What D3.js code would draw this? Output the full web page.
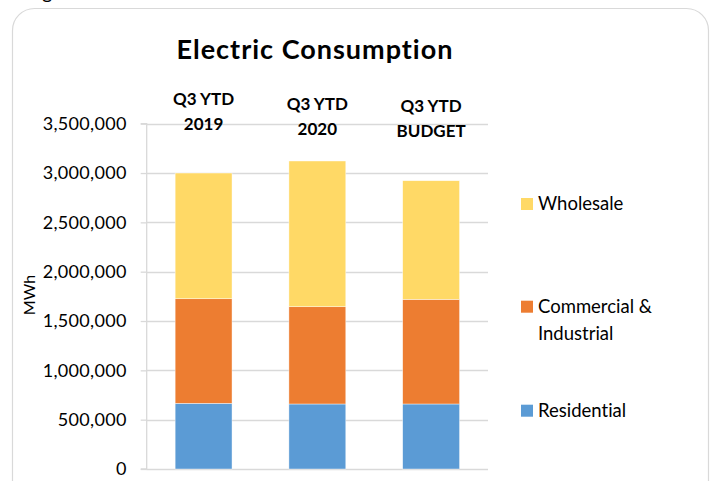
<!DOCTYPE html>
<html>
<head>
<meta charset="utf-8">
<script src="https://cdn.jsdelivr.net/npm/d3@7"></script>
<style>
  html, body { margin: 0; padding: 0; background: #fff; }
  svg { display: block; }
  text { font-family: Lato, "Open Sans", sans-serif; fill: #000; font-variant-ligatures: none; }
</style>
</head>
<body>
<svg id="chart" width="710" height="481"></svg>
<script>
// Electric consumption by customer class (MWh)
const categories = ["Q3 YTD 2019", "Q3 YTD 2020", "Q3 YTD BUDGET"];
const categoryLines = [["Q3 YTD", "2019"], ["Q3 YTD", "2020"], ["Q3 YTD", "BUDGET"]];
const residential = [666000, 659000, 659000];
const commercialIndustrial = [1060000, 986000, 1061000];
const wholesale = [1274000, 1477000, 1202000];
const seriesNames = ["Residential", "Commercial & Industrial", "Wholesale"];
const yTicks = [0, 500000, 1000000, 1500000, 2000000, 2500000, 3000000, 3500000];

const colors = {
  "Residential": "#5B9BD5",
  "Commercial & Industrial": "#ED7D31",
  "Wholesale": "#FFD966"
};

const svg = d3.select("#chart");

// card outline
svg.append("rect")
  .attr("x", 12.5).attr("y", 8.5)
  .attr("width", 696).attr("height", 520)
  .attr("rx", 22).attr("ry", 22)
  .attr("fill", "#fff")
  .attr("stroke", "#d9d9d9").attr("stroke-width", 1.2);

// tail of the caption line above the card
svg.append("text")
  .attr("x", 42).attr("y", -1)
  .style("font-size", "20px")
  .text("g");

const rows = categories.map((c, i) => ({
  category: c,
  "Residential": residential[i],
  "Commercial & Industrial": commercialIndustrial[i],
  "Wholesale": wholesale[i]
}));

const x = d3.scaleBand()
  .domain(categories)
  .range([146.7, 488])
  .paddingInner(0.5)
  .paddingOuter(0.25);

const y = d3.scaleLinear()
  .domain([0, 3500000])
  .range([469, 123.7]);

// horizontal gridlines
svg.append("g")
  .selectAll("line")
  .data(yTicks)
  .join("line")
  .attr("x1", 146.7).attr("x2", 488)
  .attr("y1", d => Math.round(y(d)) + 0.5)
  .attr("y2", d => Math.round(y(d)) + 0.5)
  .attr("stroke", "#d9d9d9").attr("stroke-width", 1.3);

// stacked bars
const stacked = d3.stack().keys(seriesNames)(rows);
svg.append("g")
  .selectAll("g")
  .data(stacked)
  .join("g")
  .attr("fill", d => colors[d.key])
  .selectAll("rect")
  .data(d => d)
  .join("rect")
  .attr("x", d => x(d.data.category))
  .attr("width", x.bandwidth())
  .attr("y", d => y(d[1]))
  .attr("height", d => y(d[0]) - y(d[1]))
  .attr("stroke", "#fff")
  .attr("stroke-width", 0.6)
  .attr("stroke-opacity", 0.7);

// value axis
const yAxis = d3.axisLeft(y)
  .tickValues(yTicks)
  .tickSize(6)
  .tickPadding(14)
  .tickFormat(d3.format(","));

const axisG = svg.append("g")
  .attr("transform", "translate(146.7,0)")
  .call(yAxis);
axisG.select(".domain").attr("stroke", "#d9d9d9").attr("stroke-width", 1.3)
  .attr("d", `M-6,${y(3500000)}H0V${y(0)}H-6`);
axisG.selectAll(".tick line").attr("stroke", "#d9d9d9").attr("stroke-width", 1.3);
axisG.selectAll(".tick text")
  .attr("fill", "#000")
  .style("font-family", "Lato, 'Open Sans', sans-serif")
  .style("font-size", "18px")
  .style("letter-spacing", "0.3px");

// axis title
svg.append("text")
  .attr("transform", "translate(35,295) rotate(-90)")
  .attr("text-anchor", "middle")
  .style("font-size", "16px")
  .text("MWh");

// category labels above the bars
const labelBase = [105, 110, 112];
const labelG = svg.append("g");
categories.forEach((c, i) => {
  const t = labelG.append("text")
    .attr("x", x(c) + x.bandwidth() / 2)
    .attr("y", labelBase[i])
    .attr("text-anchor", "middle")
    .style("font-size", "17px")
    .style("font-weight", "bold");
  categoryLines[i].forEach((line, j) => {
    t.append("tspan")
      .attr("x", x(c) + x.bandwidth() / 2)
      .attr("dy", j === 0 ? 0 : 24.5)
      .text(line);
  });
});

// title
svg.append("text")
  .attr("x", 315).attr("y", 59)
  .attr("text-anchor", "middle")
  .style("font-size", "27px")
  .style("font-weight", "bold")
  .style("letter-spacing", "1px")
  .text("Electric Consumption");

// legend
const legendItems = [
  { key: "Wholesale", lines: ["Wholesale"], y: 210 },
  { key: "Commercial & Industrial", lines: ["Commercial &", "Industrial"], y: 312.7 },
  { key: "Residential", lines: ["Residential"], y: 416.7 }
];
const legend = svg.append("g");
legendItems.forEach(item => {
  legend.append("rect")
    .attr("x", 521).attr("y", item.y - 12)
    .attr("width", 12).attr("height", 12)
    .attr("fill", colors[item.key]);
  const t = legend.append("text")
    .attr("x", 538).attr("y", item.y)
    .style("font-size", "18.5px");
  item.lines.forEach((line, j) => {
    t.append("tspan")
      .attr("x", 538)
      .attr("dy", j === 0 ? 0 : 27.3)
      .text(line);
  });
});
</script>
</body>
</html>
